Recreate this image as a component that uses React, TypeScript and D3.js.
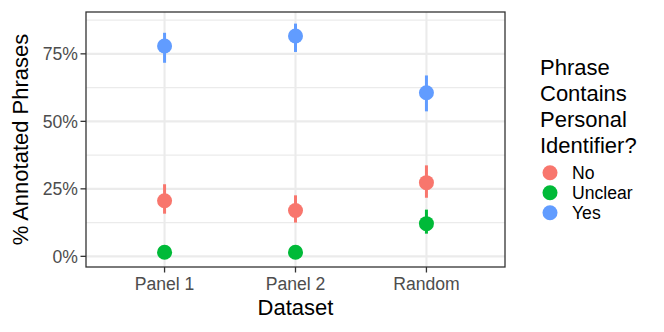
import React from 'react';
import * as d3 from 'd3';

// data
const datasets = ['Panel 1', 'Panel 2', 'Random'];
const answers = ['No', 'Unclear', 'Yes'];
const colors = ['#F8766D', '#00BA38', '#619CFF'];

const noMean = [0.206, 0.170, 0.273];
const noLow = [0.158, 0.125, 0.217];
const noHigh = [0.267, 0.226, 0.337];

const unclearMean = [0.015, 0.015, 0.121];
const unclearLow = [0.004, 0.004, 0.084];
const unclearHigh = [0.03, 0.03, 0.173];

const yesMean = [0.779, 0.816, 0.606];
const yesLow = [0.717, 0.757, 0.537];
const yesHigh = [0.828, 0.862, 0.670];

const yTicks = [0, 0.25, 0.5, 0.75];
const yMinor = [0.125, 0.375, 0.625, 0.875];

const series = [
  { name: answers[0], color: colors[0], mean: noMean, low: noLow, high: noHigh },
  { name: answers[1], color: colors[1], mean: unclearMean, low: unclearLow, high: unclearHigh },
  { name: answers[2], color: colors[2], mean: yesMean, low: yesLow, high: yesHigh },
];

const width = 664;
const height = 332;
const margin = { top: 12, right: 159, bottom: 65, left: 86 };
const innerWidth = width - margin.left - margin.right;
const innerHeight = height - margin.top - margin.bottom;

const App = () => {
  // ggplot style discrete expansion of 0.6
  const xScale = d3.scalePoint<string>()
    .domain(datasets)
    .range([0, innerWidth])
    .padding(0.6);

  const yScale = d3.scaleLinear()
    .domain([-0.0395, 0.905])
    .range([innerHeight, 0]);

  const pct = d3.format('.0%');
  const font = 'Liberation Sans, Arial, sans-serif';

  return (
    <svg width={width} height={height} style={{ display: 'block', position: 'absolute', left: 0, top: 0 }}>
      <rect width={width} height={height} fill="#fff" />
      <g transform={`translate(${margin.left},${margin.top})`}>
        {/* grid */}
        {yMinor.map(t => (
          <line key={'m' + t} x1={0} x2={innerWidth} y1={yScale(t)} y2={yScale(t)} stroke="#ebebeb" strokeWidth={1.1} />
        ))}
        {yTicks.map(t => (
          <line key={'g' + t} x1={0} x2={innerWidth} y1={yScale(t)} y2={yScale(t)} stroke="#ebebeb" strokeWidth={2.1} />
        ))}
        {datasets.map(d => (
          <line key={'gx' + d} x1={xScale(d)} x2={xScale(d)} y1={0} y2={innerHeight} stroke="#ebebeb" strokeWidth={2.1} />
        ))}

        {/* point ranges */}
        {series.map(s => (
          <g key={s.name}>
            {datasets.map((d, i) => (
              <g key={d}>
                <line x1={xScale(d)} x2={xScale(d)} y1={yScale(s.low[i])} y2={yScale(s.high[i])}
                  stroke={s.color} strokeWidth={3} />
                <circle cx={xScale(d)} cy={yScale(s.mean[i])} r={7.5} fill={s.color} />
              </g>
            ))}
          </g>
        ))}

        {/* panel border */}
        <rect x={0} y={0} width={innerWidth} height={innerHeight} fill="none" stroke="#333333" strokeWidth={1.3} />

        {/* y axis */}
        {yTicks.map(t => (
          <g key={'y' + t} transform={`translate(0,${yScale(t)})`}>
            <line x1={-5.5} x2={0} stroke="#333333" strokeWidth={1.3} />
            <text x={-8} dy="0.35em" textAnchor="end" fontFamily={font} fontSize={17.6} fill="#4d4d4d">{pct(t)}</text>
          </g>
        ))}

        {/* x axis */}
        {datasets.map(d => (
          <g key={'x' + d} transform={`translate(${xScale(d)},${innerHeight})`}>
            <line y1={0} y2={5.5} stroke="#333333" strokeWidth={1.3} />
            <text y={23} textAnchor="middle" fontFamily={font} fontSize={17.6} fill="#4d4d4d">{d}</text>
          </g>
        ))}

        <text x={innerWidth / 2} y={innerHeight + 48} textAnchor="middle" fontFamily={font} fontSize={22} fill="#000">Dataset</text>
        <text transform={`translate(${-58},${innerHeight / 2}) rotate(-90)`} textAnchor="middle" fontFamily={font} fontSize={22} fill="#000">% Annotated Phrases</text>
      </g>

      {/* legend */}
      <g transform="translate(540,0)">
        {['Phrase', 'Contains', 'Personal', 'Identifier?'].map((line, i) => (
          <text key={line} x={0} y={74.5 + i * 26} fontFamily={font} fontSize={22} fill="#000">{line}</text>
        ))}
        {series.map((s, i) => (
          <g key={s.name} transform={`translate(0,${172.7 + i * 20})`}>
            <circle cx={10} cy={0} r={7.5} fill={s.color} />
            <text x={32} dy="0.35em" fontFamily={font} fontSize={17.6} fill="#000">{s.name}</text>
          </g>
        ))}
      </g>
    </svg>
  );
};

export default App;
